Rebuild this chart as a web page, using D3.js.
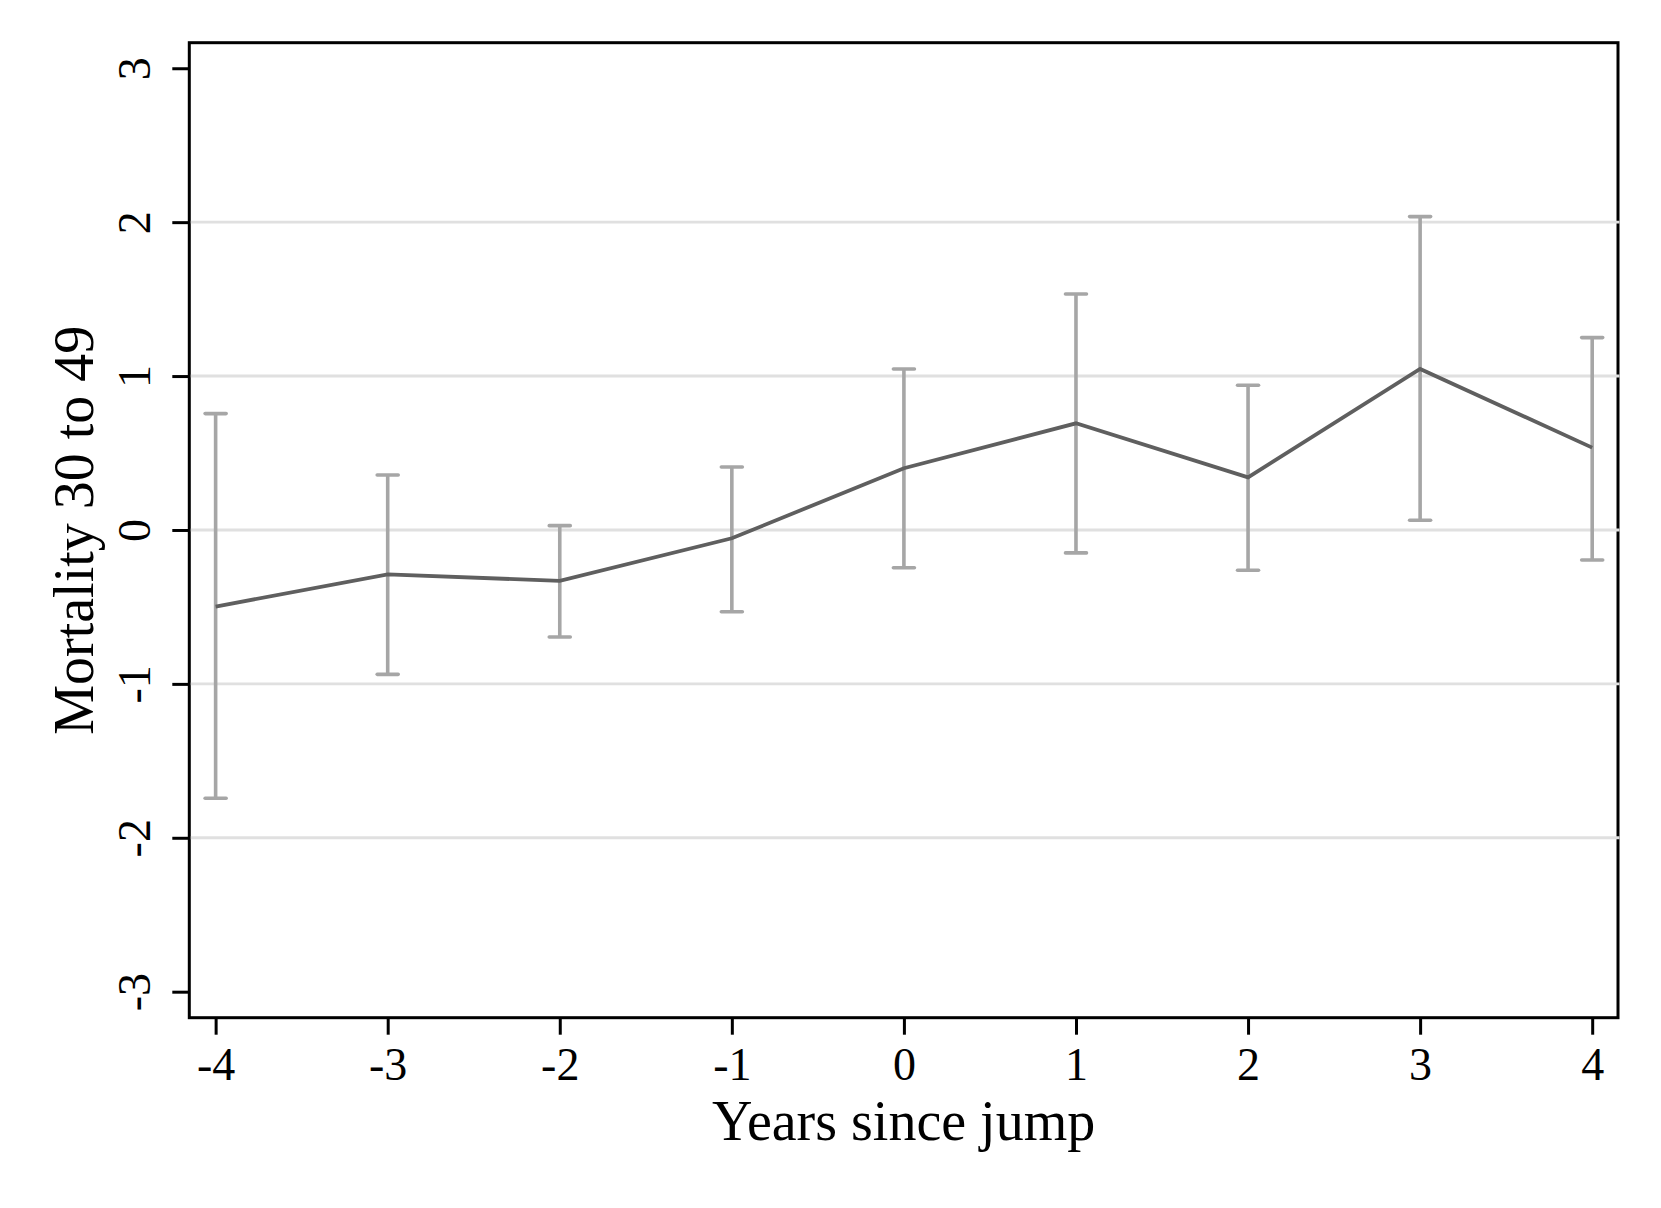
<!DOCTYPE html>
<html>
<head>
<meta charset="utf-8">
<script src="https://cdn.jsdelivr.net/npm/d3@7"></script>
<style>
  html, body { margin: 0; padding: 0; background: #fff; }
  svg { display: block; }
</style>
</head>
<body>
<svg id="chart" width="1661" height="1208"></svg>
<script>
// ---- data ----
const years    = [-4, -3, -2, -1, 0, 1, 2, 3, 4];
const estimate = [-0.498, -0.288, -0.331, -0.054, 0.401, 0.693, 0.342, 1.046, 0.535];
const ciUpper  = [0.756, 0.357, 0.028, 0.409, 1.046, 1.533, 0.940, 2.036, 1.250];
const ciLower  = [-1.743, -0.938, -0.695, -0.531, -0.245, -0.149, -0.262, 0.063, -0.195];
const xTicks   = [-4, -3, -2, -1, 0, 1, 2, 3, 4];
const yTicks   = [-3, -2, -1, 0, 1, 2, 3];
const yGrid    = [-2, -1, 0, 1, 2];
const xTitle   = "Years since jump";
const yTitle   = "Mortality 30 to 49";

// ---- layout ----
const W = 1661, H = 1208;
const pLeft = 189.3, pRight = 1618, pTop = 42.7, pBottom = 1017.7;
const font = "'Liberation Serif', 'DejaVu Serif', serif";

const svg = d3.select("#chart");
svg.append("rect").attr("width", W).attr("height", H).attr("fill", "#fff");

const x = d3.scaleLinear().domain([-4.153, 4.15]).range([pLeft, pRight]);
const y = d3.scaleLinear().domain([-3.169, 3.166]).range([pBottom, pTop]);

// frame
svg.append("rect")
  .attr("x", pLeft).attr("y", pTop)
  .attr("width", pRight - pLeft).attr("height", pBottom - pTop)
  .attr("fill", "none").attr("stroke", "#000").attr("stroke-width", 3);

// gridlines
svg.append("g").selectAll("line").data(yGrid).join("line")
  .attr("x1", pLeft + 1.5).attr("x2", pRight + 1.5)
  .attr("y1", d => y(d)).attr("y2", d => y(d))
  .attr("stroke", "#e0e0e0").attr("stroke-width", 2.9);

// x axis
const gx = svg.append("g")
  .attr("transform", `translate(0,${pBottom})`)
  .call(d3.axisBottom(x).tickValues(xTicks).tickSize(17).tickFormat(d3.format("d")));
gx.select(".domain").remove();
gx.selectAll(".tick line").attr("stroke", "#000").attr("stroke-width", 3);
gx.selectAll(".tick text")
  .attr("y", 62.3).attr("dy", 0)
  .attr("font-family", font).attr("font-size", 46).attr("fill", "#000")
  .text(d => d < 0 ? "-" + Math.abs(d) : String(d));

// y axis
const gy = svg.append("g")
  .attr("transform", `translate(${pLeft},0)`)
  .call(d3.axisLeft(y).tickValues(yTicks).tickSize(17).tickFormat(d3.format("d")));
gy.select(".domain").remove();
gy.selectAll(".tick line").attr("stroke", "#000").attr("stroke-width", 3);
gy.selectAll(".tick text")
  .attr("x", null).attr("dy", null)
  .attr("transform", "translate(-39.3,0) rotate(-90)")
  .attr("text-anchor", "middle")
  .attr("font-family", font).attr("font-size", 46).attr("fill", "#000")
  .text(d => d < 0 ? "-" + Math.abs(d) : String(d));

// error bars
const eb = svg.append("g").attr("stroke", "#a6a6a6").attr("stroke-width", 3.6).attr("fill", "none");
const capW = 10.5;
years.forEach((yr, i) => {
  const cx = x(yr);
  eb.append("line").attr("x1", cx).attr("x2", cx).attr("y1", y(ciUpper[i])).attr("y2", y(ciLower[i]));
  eb.append("line").attr("x1", cx - capW).attr("x2", cx + capW).attr("y1", y(ciUpper[i])).attr("y2", y(ciUpper[i])).attr("stroke-linecap", "round");
  eb.append("line").attr("x1", cx - capW).attr("x2", cx + capW).attr("y1", y(ciLower[i])).attr("y2", y(ciLower[i])).attr("stroke-linecap", "round");
});

// estimate line
const line = d3.line().x((d, i) => x(years[i])).y(d => y(d));
svg.append("path")
  .attr("d", line(estimate))
  .attr("fill", "none").attr("stroke", "#5f5f5f").attr("stroke-width", 3.8)
  .attr("stroke-linejoin", "miter");

// titles
svg.append("text")
  .attr("x", (pLeft + pRight) / 2).attr("y", 1140)
  .attr("text-anchor", "middle")
  .attr("font-family", font).attr("font-size", 56).attr("fill", "#000")
  .text(xTitle);

svg.append("text")
  .attr("transform", `translate(93,${(pTop + pBottom) / 2}) rotate(-90)`)
  .attr("text-anchor", "middle")
  .attr("font-family", font).attr("font-size", 56).attr("fill", "#000")
  .text(yTitle);
</script>
</body>
</html>
